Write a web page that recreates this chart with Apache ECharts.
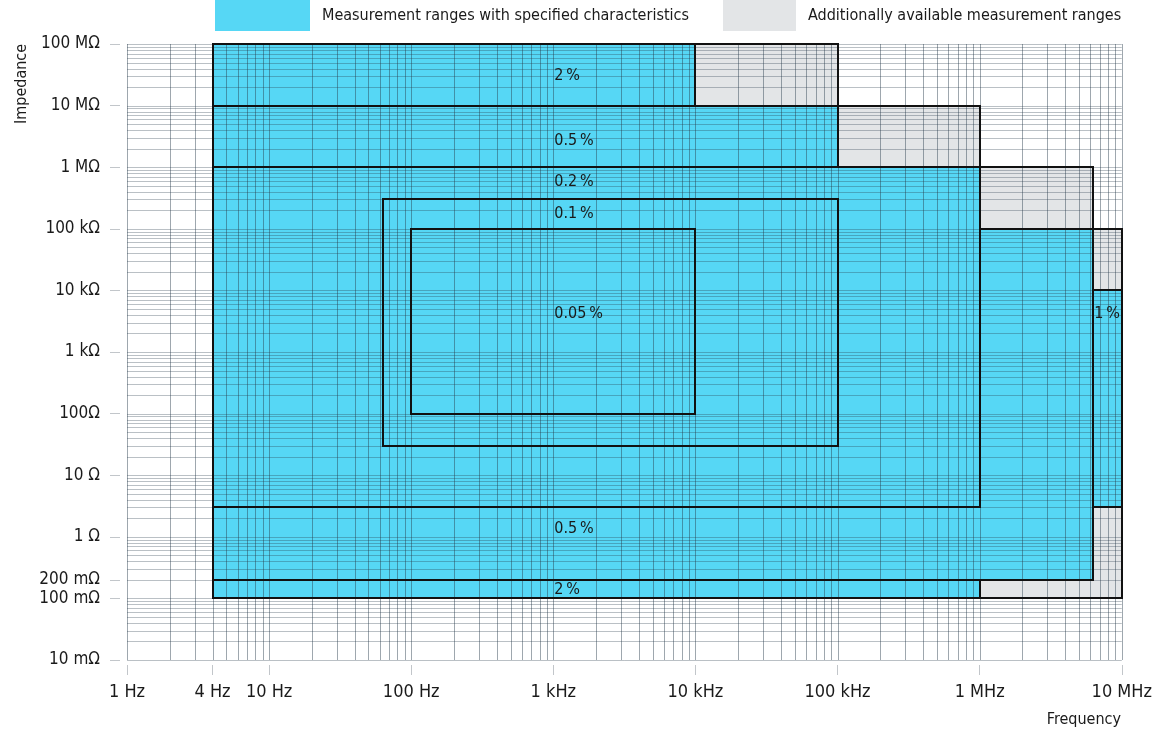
<!DOCTYPE html>
<html><head><meta charset="utf-8">
<script src="https://cdn.jsdelivr.net/npm/echarts@6/dist/echarts.min.js"></script>
<style>html,body{margin:0;padding:0;background:#fff}#chart{width:1155px;height:735px}</style>
</head><body><div id="chart"></div>
<script>
const FONT = "'Liberation Sans Narrow','DejaVu Sans Condensed',sans-serif";
const BLUE = '#56D7F5';
const GRAY = '#E3E5E7';
const TEXT = '#1a1a1a';

const SPEC_NAME = 'Measurement ranges with specified characteristics';
const ADD_NAME = 'Additionally available measurement ranges';

// axis ticks
const freqTicks = [1, 4, 10, 100, 1e3, 1e4, 1e5, 1e6, 1e7];
const freqTickLabels = ['1 Hz', '4 Hz', '10 Hz', '100 Hz', '1 kHz', '10 kHz', '100 kHz', '1 MHz', '10 MHz'];
const impTicks = [0.01, 0.1, 0.2, 1, 10, 100, 1e3, 1e4, 1e5, 1e6, 1e7, 1e8];
const impTickLabels = ['10 mΩ', '100 mΩ', '200 mΩ', '1 Ω', '10 Ω', '100Ω', '1 kΩ', '10 kΩ', '100 kΩ', '1 MΩ', '10 MΩ', '100 MΩ'];

// measurement ranges with specified characteristics: corners [frequency Hz, impedance Ω]
const specifiedRanges = [
  [[4, 1e7], [1e4, 1e7], [1e4, 1e8], [4, 1e8]],                 // 2 %
  [[4, 1e6], [1e5, 1e6], [1e5, 1e7], [4, 1e7]],                 // 0.5 %
  [[4, 3], [1e6, 3], [1e6, 1e6], [4, 1e6]],                     // 0.2 %
  [[63, 30], [1e5, 30], [1e5, 3e5], [63, 3e5]],                 // 0.1 %
  [[100, 100], [1e4, 100], [1e4, 1e5], [100, 1e5]],             // 0.05 %
  [[4, 0.2], [6.3e6, 0.2], [6.3e6, 1e5], [1e6, 1e5], [1e6, 3], [4, 3]], // 0.5 %
  [[4, 0.1], [1e6, 0.1], [1e6, 0.2], [4, 0.2]],                 // 2 %
  [[6.3e6, 3], [1e7, 3], [1e7, 1e4], [6.3e6, 1e4]]              // 1 %
];
// additionally available measurement ranges
const additionalRanges = [
  [[1e4, 1e7], [1e5, 1e7], [1e5, 1e8], [1e4, 1e8]],
  [[1e5, 1e6], [1e6, 1e6], [1e6, 1e7], [1e5, 1e7]],
  [[1e6, 1e5], [6.3e6, 1e5], [6.3e6, 1e6], [1e6, 1e6]],
  [[6.3e6, 1e4], [1e7, 1e4], [1e7, 1e5], [6.3e6, 1e5]],
  [[1e6, 0.1], [1e7, 0.1], [1e7, 3], [6.3e6, 3], [6.3e6, 0.2], [1e6, 0.2]]
];
// accuracy annotations
const accuracyLabels = ['2\u2009%', '0.5\u2009%', '0.2\u2009%', '0.1\u2009%', '0.05\u2009%', '0.5\u2009%', '2\u2009%', '1\u2009%'];
const labelFreq = [1e3, 1e3, 1e3, 1e3, 1e3, 1e3, 1e3, 6.3e6];
const labelImpedance = [3e7, 2.7e6, 5.7e5, 1.75e5, 4.2e3, 1.35, 0.14, 4.2e3];

function nearestLabel(v, ticks, labels) {
  let best = 0, bd = Infinity;
  ticks.forEach((t, i) => { const d = Math.abs(Math.log10(v) - Math.log10(t)); if (d < bd) { bd = d; best = i; } });
  return labels[best];
}

// log grid lines (1..9 per decade)
const gridFreq = [], gridImp = [];
for (let k = 0; k < 7; k++) for (let m = 1; m <= 9; m++) gridFreq.push([m * Math.pow(10, k), 1]);
gridFreq.push([1e7, 1]);
for (let k = -2; k < 8; k++) for (let m = 1; m <= 9; m++) gridImp.push([1, m * Math.pow(10, k)]);
gridImp.push([1, 1e8]);

const allRanges = specifiedRanges.concat(additionalRanges);

function fillRender(ranges, color) {
  return function (params, api) {
    const pts = ranges[api.value(2)].map(pt => api.coord(pt));
    return { type: 'polygon', shape: { points: pts }, style: { fill: color }, silent: true };
  };
}

const chart = echarts.init(document.getElementById('chart'), null, { renderer: 'canvas' });
chart.setOption({
  animation: false,
  backgroundColor: '#fff',
  textStyle: { fontFamily: FONT },
  grid: { left: 127, right: 33, top: 44, bottom: 75, containLabel: false },
  legend: [
    {
      data: [{ name: SPEC_NAME, itemStyle: { color: BLUE } }],
      left: 215, top: 0, padding: 0, icon: 'rect', itemWidth: 95, itemHeight: 31,
      selectedMode: false,
      textStyle: { fontSize: 16, fontFamily: FONT, color: TEXT, padding: [0, 0, 0, 7] }
    },
    {
      data: [{ name: ADD_NAME, itemStyle: { color: GRAY } }],
      left: 723, top: 0, padding: 0, icon: 'rect', itemWidth: 73, itemHeight: 31,
      selectedMode: false,
      textStyle: { fontSize: 16, fontFamily: FONT, color: TEXT, padding: [0, 0, 0, 7] }
    }
  ],
  xAxis: {
    type: 'log', logBase: 10, min: 1, max: 1e7, offset: 5,
    axisLine: { show: false },
    splitLine: { show: false },
    axisTick: { show: true, length: 10, customValues: freqTicks, lineStyle: { color: '#c2c6ca', width: 1 } },
    axisLabel: {
      customValues: freqTicks, margin: 18, fontSize: 18, fontFamily: FONT, color: TEXT,
      hideOverlap: false,
      formatter: v => nearestLabel(v, freqTicks, freqTickLabels)
    }
  },
  yAxis: {
    type: 'log', logBase: 10, min: 0.01, max: 1e8, offset: 7,
    axisLine: { show: false },
    splitLine: { show: false },
    axisTick: { show: true, length: 10, customValues: impTicks, lineStyle: { color: '#c2c6ca', width: 1 } },
    axisLabel: {
      customValues: impTicks, margin: 20, fontSize: 17, fontFamily: FONT, color: TEXT,
      hideOverlap: false,
      formatter: v => nearestLabel(v, impTicks, impTickLabels)
    }
  },
  graphic: [
    { type: 'text', x: 22, y: 124, rotation: Math.PI / 2, silent: true,
      style: { text: 'Impedance', fontSize: 16, fontFamily: FONT, fill: TEXT, align: 'left', verticalAlign: 'middle' } },
    { type: 'text', x: 1121, y: 720, silent: true,
      style: { text: 'Frequency', fontSize: 16, fontFamily: FONT, fill: TEXT, align: 'right', verticalAlign: 'middle' } }
  ],
  series: [
    {
      name: SPEC_NAME, type: 'custom', z: 1, itemStyle: { color: BLUE },
      encode: { x: 0, y: 1 },
      data: specifiedRanges.map((p, i) => [p[0][0], p[0][1], i]),
      renderItem: fillRender(specifiedRanges, BLUE)
    },
    {
      name: ADD_NAME, type: 'custom', z: 1, itemStyle: { color: GRAY },
      encode: { x: 0, y: 1 },
      data: additionalRanges.map((p, i) => [p[0][0], p[0][1], i]),
      renderItem: fillRender(additionalRanges, GRAY)
    },
    {
      name: 'gridX', type: 'custom', z: 2, silent: true,
      encode: { x: 0, y: 1 },
      data: gridFreq,
      renderItem: function (params, api) {
        const p = api.coord([api.value(0), 1]);
        const cs = params.coordSys;
        const x = Math.round(p[0]) + 0.5;
        return { type: 'line', silent: true,
          shape: { x1: x, y1: cs.y, x2: x, y2: cs.y + cs.height },
          style: { stroke: 'rgba(40,60,75,0.45)', lineWidth: 1 } };
      }
    },
    {
      name: 'gridY', type: 'custom', z: 2, silent: true,
      encode: { x: 0, y: 1 },
      data: gridImp,
      renderItem: function (params, api) {
        const p = api.coord([1, api.value(1)]);
        const cs = params.coordSys;
        const y = Math.round(p[1]) + 0.5;
        return { type: 'line', silent: true,
          shape: { x1: cs.x, y1: y, x2: cs.x + cs.width, y2: y },
          style: { stroke: 'rgba(40,60,75,0.32)', lineWidth: 1 } };
      }
    },
    {
      name: 'outlines', type: 'custom', z: 3, silent: true,
      encode: { x: 0, y: 1 },
      data: allRanges.map((p, i) => [p[0][0], p[0][1], i]),
      renderItem: function (params, api) {
        const pts = allRanges[api.value(2)].map(pt => {
          const c = api.coord(pt);
          return [Math.round(c[0]), Math.round(c[1])];
        });
        return { type: 'polygon', silent: true, shape: { points: pts },
          style: { fill: 'none', stroke: '#111111', lineWidth: 2 } };
      }
    },
    {
      name: 'accuracy', type: 'custom', z: 4, silent: true,
      encode: { x: 0, y: 1 },
      data: accuracyLabels.map((t, i) => [labelFreq[i], labelImpedance[i], i]),
      renderItem: function (params, api) {
        const c = api.coord([api.value(0), api.value(1)]);
        return { type: 'text', silent: true, x: c[0] + 1, y: c[1],
          style: { text: accuracyLabels[api.value(2)], fontSize: 16, fontFamily: FONT, fill: TEXT,
            align: 'left', verticalAlign: 'middle' } };
      }
    }
  ]
});
</script>
</body></html>
